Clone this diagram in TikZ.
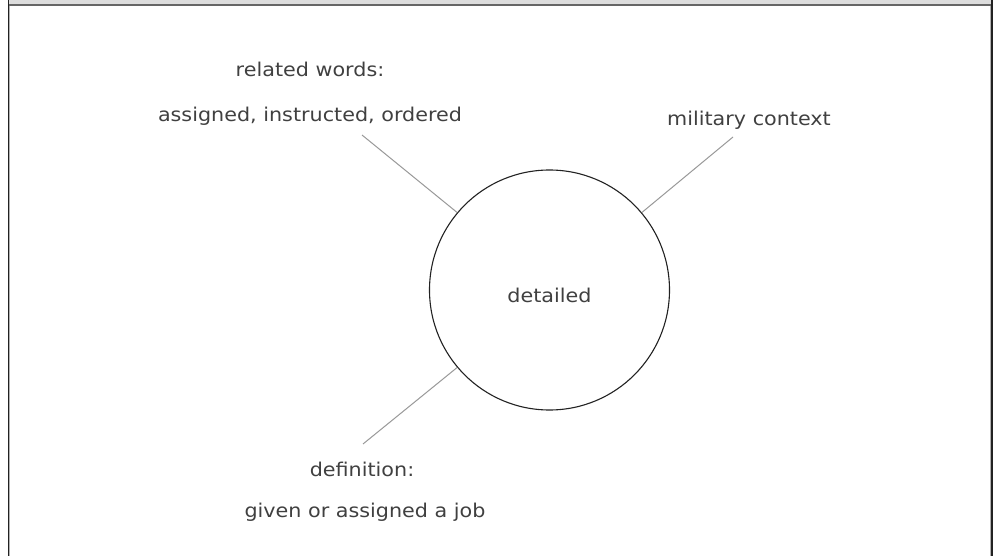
\documentclass[tikz,border=0pt]{standalone}
\usepackage{fontspec}
\setmainfont[FakeStretch=1.09]{DejaVu Sans}
\definecolor{txt}{HTML}{404040}
\definecolor{hdr}{HTML}{DDDDDD}
\definecolor{hdrline}{HTML}{666666}
\definecolor{framec}{HTML}{222222}
\definecolor{linkc}{HTML}{999999}
\begin{document}
\begin{tikzpicture}[x=1pt,y=-1pt,
  lbl/.style={text=txt,font=\fontsize{19}{23}\selectfont,inner sep=0pt,anchor=base},
  hub/.style={circle,draw=framec,line width=1.1pt,minimum size=240pt,inner sep=0pt,text=txt,font=\fontsize{19}{23}\selectfont},
  link/.style={draw=linkc,line width=1pt}]
\useasboundingbox (0,0) rectangle (994,556);
\fill[white] (0,0) rectangle (994,556);
% header band and frame
\fill[hdr] (9,0) rectangle (991,4);
\draw[hdrline,line width=2pt] (9,5) -- (991,5);
\draw[framec,line width=1.5pt] (8.5,0) -- (8.5,556);
\draw[gray!60,line width=0.8pt] (9.8,6) -- (9.8,556);
\draw[framec,line width=1.8pt] (992.2,0) -- (992.2,556);
\draw[gray!60,line width=0.8pt] (990.6,6) -- (990.6,556);
% hub
\node[hub] (c) at (549.5,290) {};
\node[lbl] (ct) at (549.5,302) {detailed};
% labels
\node[lbl] (rw) at (310,77) {related words:};
\node[lbl] (rwl) at (310,122) {assigned, instructed, ordered};
\node[lbl] (mc) at (749,126) {military context};
\node[lbl] (df) at (362,476) {definition:};
\node[lbl] (dfl) at (365,517) {given or assigned a job};
% connector ends
\coordinate (e1) at (362,135);
\coordinate (e2) at (733,137);
\coordinate (e3) at (363,444);
\draw[link] (c.140) -- (e1);
\draw[link] (c.40) -- (e2);
\draw[link] (c.220) -- (e3);
\end{tikzpicture}
\end{document}
